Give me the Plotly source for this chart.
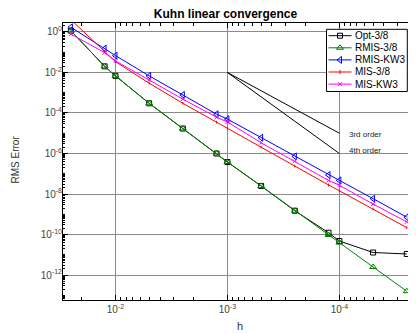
import numpy as np
import plotly.graph_objects as go

# ---------------- data ----------------
h = [1/40, 1/80, 1/100, 1/200, 1/400, 1/800, 1/1000, 1/2000, 1/4000,
     1/8000, 1/10000, 1/20000, 1/40000]

opt_38 = [1.15, 2.0e-2, 6.8e-3, 3.0e-4, 1.7e-5, 1.0e-6, 3.8e-7, 2.5e-8, 1.5e-9,
          1.23e-10, 4.8e-11, 1.3e-11, 1.1e-11]
rmis_38 = [1.15, 2.0e-2, 6.8e-3, 3.0e-4, 1.7e-5, 1.0e-6, 3.8e-7, 2.5e-8, 1.5e-9,
           9.5e-11, 4.0e-11, 2.5e-12, 1.6e-13]
rmis_kw3 = [1.7, 0.15, 0.068, 6.8e-3, 7.8e-4, 8.7e-5, 5.0e-5, 6.0e-6, 7.2e-7,
            8.7e-8, 4.7e-8, 5.9e-9, 7.2e-10]
mis_38 = [4.0, 0.107, 0.034, 2.95e-3, 3.0e-4, 3.5e-5, 1.74e-5, 2.1e-6, 2.4e-7,
          2.8e-8, 1.45e-8, 1.8e-9, 2.2e-10]
mis_kw3 = [0.79, 0.095, 0.037, 4.3e-3, 4.8e-4, 6.2e-5, 3.6e-5, 3.4e-6, 4.1e-7,
           4.7e-8, 2.7e-8, 3.2e-9, 4.2e-10]

order_h = [1e-3, 1e-4]
order3 = [1e-2, 1e-5]
order4 = [1e-2, 1e-6]

x_ticks = [1e-2, 1e-3, 1e-4]
x_ticktext = ["10<sup>-2</sup>", "10<sup>-3</sup>", "10<sup>-4</sup>"]
y_ticks = [1e0, 1e-2, 1e-4, 1e-6, 1e-8, 1e-10, 1e-12]
y_ticktext = ["10<sup>0</sup>", "10<sup>-2</sup>", "10<sup>-4</sup>", "10<sup>-6</sup>",
              "10<sup>-8</sup>", "10<sup>-10</sup>", "10<sup>-12</sup>"]

series = [
    ("Opt-3/8", opt_38, "black", "square-open", 5),
    ("RMIS-3/8", rmis_38, "#008000", "triangle-up-open", 6),
    ("RMIS-KW3", rmis_kw3, "#0000ff", "triangle-left-open", 6),
    ("MIS-3/8", mis_38, "#ff0000", "line-ns", 2),
    ("MIS-KW3", mis_kw3, "#ff00ff", "x-thin", 4),
]

FONT = "Liberation Sans, Arial, sans-serif"
OFF = 8                      # default page body margin in the browser
PAGE_W, PAGE_H = 416, 334
W, H = PAGE_W - OFF, PAGE_H - OFF
# plot area in page pixels: x 63..413, y 23..300
L, T = 63 - OFF, 23 - OFF
R, B = PAGE_W - 413, PAGE_H - 300
PW, PH = W - L - R, H - T - B

fig = go.Figure()

for name, vals, col, sym, sz in series:
    fig.add_trace(go.Scatter(
        x=h, y=vals, mode="lines+markers", name=name,
        line=dict(color=col, width=1),
        marker=dict(symbol=sym, size=sz, color=col, line=dict(color=col, width=1)),
        showlegend=False, cliponaxis=True))

for ov in (order3, order4):
    fig.add_trace(go.Scatter(x=order_h, y=ov, mode="lines",
                             line=dict(color="black", width=1), showlegend=False))

# minor tick positions
x_minor = [k * 10.0**d for d in range(-5, -1) for k in range(2, 10)]
y_minor = [k * 10.0**d for d in range(-14, 1) for k in range(1, 10) if not (k == 1 and d % 2 == 0)]

fig.update_xaxes(
    type="log", range=[np.log10(0.0294), np.log10(2.2e-5)], automargin=False,
    tickvals=x_ticks, ticktext=x_ticktext, ticks="inside", ticklen=5,
    tickcolor="black", showline=True, linecolor="black", linewidth=1, mirror="ticks",
    showgrid=True, gridcolor="#8a8a8a", gridwidth=1.2, zeroline=False,
    tickfont=dict(family=FONT, size=10, color="#444"),
    minor=dict(tickvals=x_minor, ticks="inside", ticklen=3, tickcolor="black", showgrid=False),
)
fig.update_yaxes(
    type="log", range=[-13.23, 0.44], automargin=False,
    tickvals=y_ticks, ticktext=y_ticktext, ticks="inside", ticklen=5,
    tickcolor="black", showline=True, linecolor="black", linewidth=1, mirror="ticks",
    showgrid=True, gridcolor="#8a8a8a", gridwidth=1.2, zeroline=False,
    tickfont=dict(family=FONT, size=10, color="#444"), ticklabelstandoff=-2,
    minor=dict(tickvals=y_minor, ticks="inside", ticklen=2, tickcolor="black", showgrid=False),
)

# ---- manual legend (compact, like the reference); coords given in page pixels ----
def pp(x, y):
    return (x - OFF - L) / PW, (T + PH - (y - OFF)) / PH

fig.update_layout(
    xaxis2=dict(domain=[0, 1], range=[0, 1], overlaying="x", visible=False,
                fixedrange=True, automargin=False),
    yaxis2=dict(domain=[0, 1], range=[0, 1], overlaying="y", visible=False,
                fixedrange=True, automargin=False),
)
bx0, by0 = pp(326.5, 29.3)
bx1, by1 = pp(407.3, 91.5)
fig.add_trace(go.Scatter(
    x=[bx0, bx1, bx1, bx0, bx0], y=[by0, by0, by1, by1, by0], xaxis="x2", yaxis="y2",
    mode="lines", fill="toself", fillcolor="white", line=dict(color="black", width=1),
    showlegend=False, hoverinfo="skip"))
annotations = []
for i, (name, vals, col, sym, sz) in enumerate(series):
    yy = 35.7 + 12.1 * i
    lx0, ly = pp(328.5, yy)
    lx1, _ = pp(351.5, yy)
    mx, _ = pp(340, yy)
    tx, _ = pp(353.3, yy)
    fig.add_trace(go.Scatter(
        x=[lx0, mx, lx1], y=[ly, ly, ly], xaxis="x2", yaxis="y2",
        mode="lines", line=dict(color=col, width=1), showlegend=False, hoverinfo="skip"))
    fig.add_trace(go.Scatter(
        x=[mx], y=[ly], xaxis="x2", yaxis="y2", mode="markers",
        marker=dict(symbol=sym, size=max(sz, 3), color=col, line=dict(color=col, width=1)),
        showlegend=False, hoverinfo="skip"))
    annotations.append(dict(x=tx, y=ly, xref="paper", yref="paper", text=name,
                            showarrow=False, xanchor="left", yanchor="middle",
                            font=dict(family=FONT, size=10, color="black")))

# order labels
annotations.append(dict(x=np.log10(8.5e-5), y=-5.04, xref="x", yref="y", text="3rd order",
                        showarrow=False, xanchor="left", yanchor="middle",
                        font=dict(family=FONT, size=8, color="#222")))
annotations.append(dict(x=np.log10(8.5e-5), y=-5.83, xref="x", yref="y", text="4th order",
                        showarrow=False, xanchor="left", yanchor="middle",
                        font=dict(family=FONT, size=8, color="#222")))
# axis titles
ax_, ay_ = pp(14.5, 160)
annotations.append(dict(x=ax_, y=ay_, xref="paper", yref="paper",
                        text="RMS Error", showarrow=False, textangle=-90,
                        xanchor="center", yanchor="middle",
                        font=dict(family=FONT, size=10, color="#333")))
hx_, hy_ = pp(240, 326)
annotations.append(dict(x=hx_, y=hy_, xref="paper", yref="paper",
                        text="h", showarrow=False, xanchor="center", yanchor="middle",
                        font=dict(family=FONT, size=11, color="#333")))

fig.update_layout(
    width=W, height=H, margin=dict(l=L, r=R, t=T, b=B, pad=0),
    paper_bgcolor="white", plot_bgcolor="white",
    title=dict(text="<b>Kuhn linear convergence</b>", x=(225.5 - OFF) / W, xanchor="center",
               y=1 - (14 - OFF) / H, yanchor="middle", yref="container", automargin=False,
               font=dict(family=FONT, size=12, color="black")),
    annotations=annotations, showlegend=False,
)

fig.write_html("out.html")
